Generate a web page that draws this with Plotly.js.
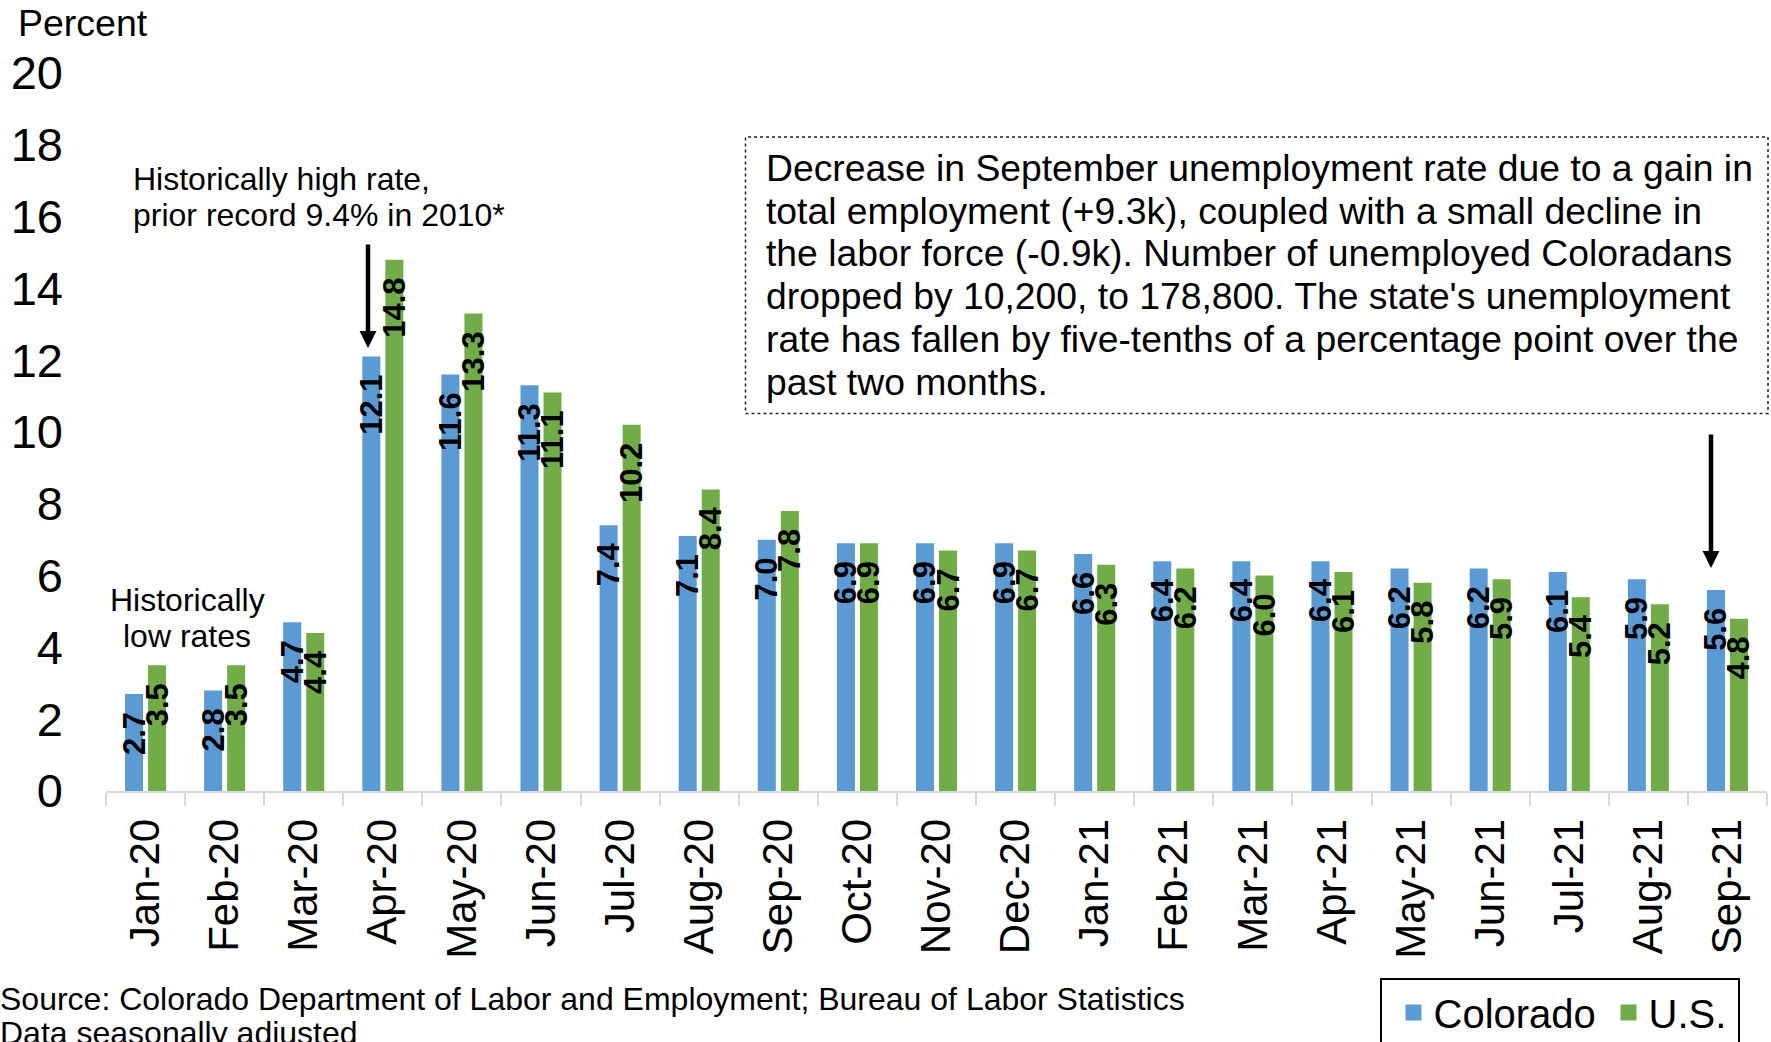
<!DOCTYPE html>
<html>
<head>
<meta charset="utf-8">
<script src="https://cdn.plot.ly/plotly-3.0.1.min.js"></script>
<style>
html,body{margin:0;padding:0;background:#fff;}
#chart{width:1771px;height:1042px;}
</style>
</head>
<body>
<div id="chart"></div>
<script>
// ---------- DATA ----------
const months = ['Jan-20','Feb-20','Mar-20','Apr-20','May-20','Jun-20','Jul-20','Aug-20','Sep-20','Oct-20','Nov-20','Dec-20',
                'Jan-21','Feb-21','Mar-21','Apr-21','May-21','Jun-21','Jul-21','Aug-21','Sep-21'];
const colorado = [2.7, 2.8, 4.7, 12.1, 11.6, 11.3, 7.4, 7.1, 7.0, 6.9, 6.9, 6.9, 6.6, 6.4, 6.4, 6.4, 6.2, 6.2, 6.1, 5.9, 5.6];
const us       = [3.5, 3.5, 4.4, 14.8, 13.3, 11.1, 10.2, 8.4, 7.8, 6.9, 6.7, 6.7, 6.3, 6.2, 6.0, 6.1, 5.8, 5.9, 5.4, 5.2, 4.8];
const seriesNames = ['Colorado', 'U.S.'];
const yTickVals = [0, 2, 4, 6, 8, 10, 12, 14, 16, 18, 20];
const yAxisLabel = 'Percent';
const noteLines = [
  'Decrease in September unemployment rate due to a gain in',
  'total employment (+9.3k), coupled with a small decline in',
  'the labor force (-0.9k). Number of unemployed Coloradans',
  "dropped by 10,200, to 178,800. The state's unemployment",
  'rate has fallen by five-tenths of a percentage point over the',
  'past two months.'
];
const highLines = ['Historically high rate,', 'prior record 9.4% in 2010*'];
const lowLines = ['Historically', 'low rates'];
const sourceLines = ['Source: Colorado Department of Labor and Employment; Bureau of Labor Statistics',
                     'Data seasonally adjusted'];

// ---------- LAYOUT GEOMETRY (pixels) ----------
const W = 1771, H = 1042;
const L = 106, R = 1767, T = 73, B = 791;
const px = x => (x - L) / (R - L);
const py = y => (B - y) / (B - T);
const FONT = '"Liberation Sans", Arial, sans-serif';
const BLUE = '#5B9BD5', GREEN = '#70AD47';
const PAD = '\u00a0\u2009';

function barTrace(name, vals, color) {
  return {
    type: 'bar', name: name, x: months, y: vals, legendgroup: name, showlegend: false,
    marker: {color: color},
    text: vals.map(v => v.toFixed(1) + PAD),
    textposition: 'inside', insidetextanchor: 'end', textangle: -90,
    constraintext: 'none', cliponaxis: false,
    textfont: {family: FONT, size: 31, color: '#000', weight: 'bold'},
    hoverinfo: 'skip'
  };
}
// legend swatches (no data drawn)
function legendProxy(name, color) {
  return {
    type: 'scatter', mode: 'markers', name: name, legendgroup: name,
    x: [null], y: [null], marker: {symbol: 'square', size: 21, color: color},
    hoverinfo: 'skip', showlegend: true
  };
}

const annotations = [];
function textBlock(lines, x, yFirst, spacing, size, anchor) {
  lines.forEach((t, i) => {
    annotations.push({
      xref: 'paper', yref: 'paper', x: px(x), y: py(yFirst + i * spacing),
      xanchor: anchor, yanchor: 'middle', showarrow: false, text: t,
      font: {family: FONT, size: size, color: '#000'}
    });
  });
}
textBlock([yAxisLabel], 16, 23, 0, 37.5, 'left');
textBlock(noteLines, 764, 167.7, 42.9, 37.3, 'left');
textBlock(highLines, 131, 178.5, 36.5, 32, 'left');
textBlock(lowLines, 187, 600, 36, 32, 'center');
textBlock(sourceLines, -2, 999, 34, 32, 'left');

function arrow(x, yTip, yTail) {
  annotations.push({
    xref: 'paper', yref: 'paper', x: px(x), y: py(yTip), ax: 0, ay: yTail - yTip,
    axref: 'pixel', ayref: 'pixel', showarrow: true, text: '',
    arrowhead: 2, arrowsize: 0.75, arrowwidth: 4.5, arrowcolor: '#000'
  });
}
arrow(368, 348, 243);
arrow(1711, 568, 433);

const layout = {
  width: W, height: H,
  margin: {l: L, r: W - R, t: T, b: H - B, pad: 0, autoexpand: false},
  paper_bgcolor: '#fff', plot_bgcolor: '#fff',
  font: {family: FONT, color: '#000'},
  barmode: 'group', bargap: 0.418, bargroupgap: 0.217,
  showlegend: true,
  legend: {
    orientation: 'h', x: px(1393.5), y: py(980), xanchor: 'left', yanchor: 'top',
    font: {family: FONT, size: 40, color: '#000'},
    borderwidth: 0, bgcolor: 'rgba(0,0,0,0)', itemsizing: 'trace',
    entrywidth: 170
  },
  xaxis: {
    type: 'category', automargin: false, fixedrange: true,
    showline: true, linecolor: '#d9d9d9', linewidth: 2,
    ticks: 'outside', tickson: 'boundaries', ticklen: 13, tickwidth: 2, tickcolor: '#d9d9d9',
    tickangle: -90, tickfont: {family: FONT, size: 42, color: '#000'},
    ticklabelstandoff: 9,
    showgrid: false, zeroline: false
  },
  yaxis: {
    range: [0, 20], automargin: false, fixedrange: true,
    tickvals: yTickVals, ticktext: yTickVals.map(String),
    showline: false, showgrid: false, zeroline: false, ticks: '',
    tickfont: {family: FONT, size: 47, color: '#000'},
    ticklabelstandoff: 42
  },
  shapes: [
    {type: 'rect', xref: 'paper', yref: 'paper',
     x0: px(745.5), x1: px(1768), y0: py(413.5), y1: py(137),
     line: {color: '#222', width: 1.5, dash: 'dot'}, fillcolor: 'rgba(0,0,0,0)'},
    {type: 'rect', xref: 'paper', yref: 'paper',
     x0: px(1381), x1: px(1739), y0: py(1060), y1: py(979),
     line: {color: '#000', width: 2}, fillcolor: 'rgba(0,0,0,0)'}
  ],
  annotations: annotations
};

const traces = [
  barTrace(seriesNames[0], colorado, BLUE), barTrace(seriesNames[1], us, GREEN),
  legendProxy(seriesNames[0], BLUE), legendProxy(seriesNames[1], GREEN)
];
Plotly.newPlot('chart', traces, layout, {staticPlot: true, displayModeBar: false});
</script>
</body>
</html>
